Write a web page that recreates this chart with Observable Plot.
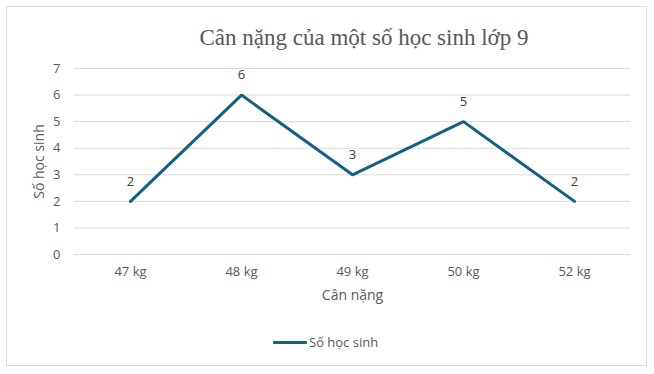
<!DOCTYPE html>
<html>
<head>
<meta charset="utf-8">
<script src="https://cdn.jsdelivr.net/npm/d3@7"></script>
<script src="https://cdn.jsdelivr.net/npm/@observablehq/plot@0.6"></script>
<style>
  html, body { margin: 0; padding: 0; background: #fff; }
  #wrap { position: relative; width: 654px; height: 374px; overflow: hidden; }
  #frame { position: absolute; left: 6px; top: 6px; width: 641px; height: 360px; border: 1px solid #d9d9d9; box-sizing: border-box; }
  #title { position: absolute; left: 0; width: 728px; top: 25px; text-align: center; font-family: "Liberation Serif", "DejaVu Serif", serif; font-size: 23px; color: #595959; white-space: nowrap; }
  #legend { position: absolute; top: 333px; left: 273px; font-family: "Open Sans", sans-serif; font-size: 13px; color: #595959; display: flex; align-items: center; white-space: nowrap; }
  #legend .sw { display: inline-block; width: 34px; height: 3px; background: #156082; margin-right: 2px; border-radius: 1px; }
  #chart { position: absolute; left: 0; top: 0; }
</style>
</head>
<body>
<div id="wrap">
  <div id="frame"></div>
  <div id="chart"></div>
  <div id="title">Cân nặng của một số học sinh lớp 9</div>
  <div id="legend"><span class="sw"></span><span>Số học sinh</span></div>
</div>
<script>
const categories = ["47 kg", "48 kg", "49 kg", "50 kg", "52 kg"];
const values = [2, 6, 3, 5, 2];
const yTicks = [0, 1, 2, 3, 4, 5, 6, 7];
const xTitle = "Cân nặng";
const yTitle = "Số học sinh";

const data = categories.map((c, i) => ({ cat: c, val: values[i] }));
const color = "#156082";

const chart = Plot.plot({
  width: 654,
  height: 374,
  marginLeft: 74,
  marginRight: 24,
  marginTop: 68,
  marginBottom: 120,
  style: { background: "transparent", fontFamily: "'Open Sans', sans-serif", fontSize: "13px", color: "#595959" },
  x: { type: "point", domain: categories, padding: 0.5, label: null },
  y: { domain: [0, 7], label: null },
  marks: [
    Plot.gridY(yTicks, { stroke: "#d9d9d9", strokeOpacity: 1, strokeWidth: 1 }),
    Plot.axisY(yTicks, { tickSize: 0, tickPadding: 14, fill: "#595959", fontSize: 13, label: null }),
    Plot.axisX({ tickSize: 0, tickPadding: 12, fill: "#595959", fontSize: 13, label: null }),
    Plot.text([xTitle], { frameAnchor: "bottom", dy: 45, fill: "#595959", fontSize: 14 }),
    Plot.text([yTitle], { frameAnchor: "left", textAnchor: "middle", dx: -35, rotate: -90, fill: "#595959", fontSize: 14 }),
    Plot.line(data, { x: "cat", y: "val", stroke: color, strokeWidth: 3, strokeLinejoin: "miter", strokeLinecap: "round" }),
    Plot.text(data, { x: "cat", y: "val", text: d => String(d.val), dy: -20, fill: "#404040", fontSize: 13 })
  ]
});
document.getElementById("chart").appendChild(chart);
</script>
</body>
</html>
